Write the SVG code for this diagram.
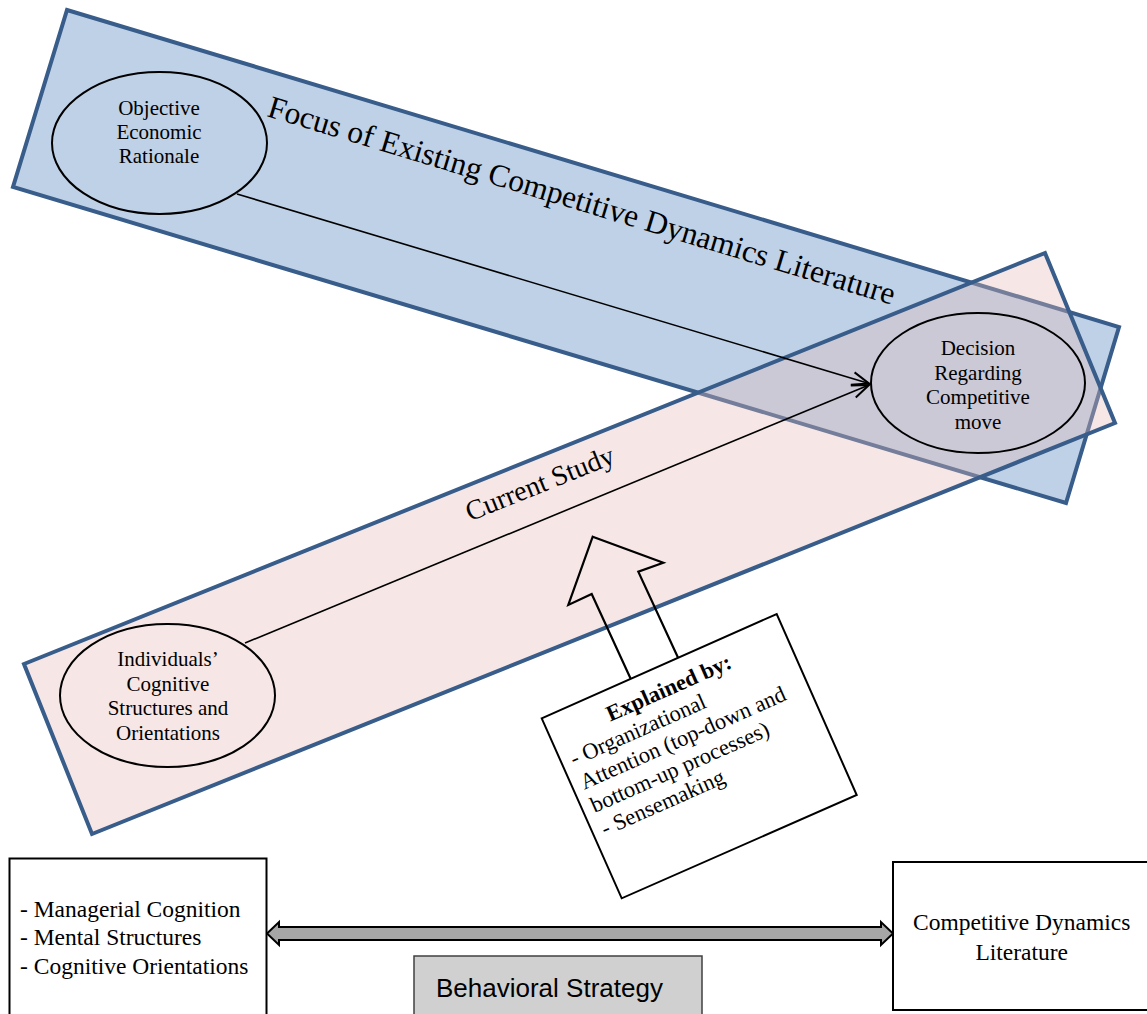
<svg xmlns="http://www.w3.org/2000/svg" width="1147" height="1014" viewBox="0 0 1147 1014">
<defs>
<style>
.serif{font-family:"Liberation Serif","Times New Roman",serif;fill:#000}
.band{stroke:#385D8A;stroke-width:4;stroke-linejoin:miter}
.ell{fill:none;stroke:#000;stroke-width:2}
.ln{fill:none;stroke:#000;stroke-width:1.6}
.box{fill:#fff;stroke:#000;stroke-width:2}
</style>
<marker id="open" viewBox="-20 -10 22 20" refX="0" refY="0" markerWidth="22" markerHeight="20" markerUnits="userSpaceOnUse" orient="auto">
<path d="M-17,-6.5 L0,0 L-17,6.5" fill="none" stroke="#000" stroke-width="2"/>
</marker>
</defs>
<rect width="1147" height="1014" fill="#fff"/>

<g id="band-existing">
<polygon class="band" points="67,10 1119,327 1066,503 13,187" fill="#BFD1E6"/>
<text class="serif" font-size="31.5" transform="translate(266,116) rotate(16.8)">Focus of Existing Competitive Dynamics Literature</text>
</g>

<g id="band-current">
<polygon class="band" points="24,664 1045,253 1115,423 92,834" fill="#E6B9B8" fill-opacity="0.35"/>
<text class="serif" font-size="28" transform="translate(470,521.5) rotate(-21.9)">Current Study</text>
</g>

<g id="node-objective">
<ellipse class="ell" cx="159.5" cy="143" rx="107.5" ry="71"/>
<text class="serif" font-size="21" text-anchor="middle"><tspan x="159" y="115">Objective</tspan><tspan x="159" y="139">Economic</tspan><tspan x="159" y="163">Rationale</tspan></text>
</g>

<g id="node-decision">
<ellipse class="ell" cx="978" cy="383" rx="107" ry="70"/>
<text class="serif" font-size="21" text-anchor="middle"><tspan x="978" y="355">Decision</tspan><tspan x="978" y="379.5">Regarding</tspan><tspan x="978" y="404">Competitive</tspan><tspan x="978" y="428.5">move</tspan></text>
</g>

<g id="node-individuals">
<ellipse class="ell" cx="167.5" cy="695.5" rx="107.5" ry="71.5"/>
<text class="serif" font-size="21" text-anchor="middle"><tspan x="168" y="666">Individuals’</tspan><tspan x="168" y="690.5">Cognitive</tspan><tspan x="168" y="715">Structures and</tspan><tspan x="168" y="739.5">Orientations</tspan></text>
</g>

<g id="connectors">
<line class="ln" x1="237" y1="194" x2="869" y2="383.5" marker-end="url(#open)"/>
<line class="ln" x1="245" y1="643" x2="869" y2="385" marker-end="url(#open)"/>
<polygon points="592.7,536.7 663.3,562.7 638.3,571.7 678.3,658.3 631.7,681 591.7,594 568.3,605" fill="none" stroke="#000" stroke-width="2.2" stroke-linejoin="miter"/>
<polygon points="267,933.5 279,922 279,927 881,927 881,922 893,933.5 881,945 881,940 279,940 279,945" fill="#A6A6A6" stroke="#000" stroke-width="2"/>
</g>

<g id="node-explained">
<polygon class="box" points="541.7,718.3 776.7,614 856.7,795 621.7,898.3"/>
<g transform="translate(541.7,718.3) rotate(-23.9)">
<text class="serif" font-size="22.5" font-weight="bold" x="128.5" y="31" text-anchor="middle">Explained by:</text>
<text class="serif" font-size="22.5"><tspan x="10" y="57">- Organizational</tspan><tspan x="10" y="82.5">Attention (top-down and</tspan><tspan x="10" y="108">bottom-up processes)</tspan><tspan x="10" y="133.5">- Sensemaking</tspan></text>
</g>
</g>

<g id="node-cognition">
<rect class="box" x="9.5" y="858.5" width="257" height="165"/>
<text class="serif" font-size="23.5"><tspan x="20" y="917">- Managerial Cognition</tspan><tspan x="20" y="945">- Mental Structures</tspan><tspan x="20" y="973.5">- Cognitive Orientations</tspan></text>
</g>

<g id="node-literature">
<rect class="box" x="893" y="862" width="257" height="148"/>
<text class="serif" font-size="23.5" text-anchor="middle"><tspan x="1021.7" y="930">Competitive Dynamics</tspan><tspan x="1021.7" y="960">Literature</tspan></text>
</g>

<g id="node-behavioral">
<rect x="414" y="956" width="288" height="70" fill="#D0D0D0" stroke="#404040" stroke-width="1.5"/>
<text x="436" y="997" font-family="'Liberation Sans',Arial,sans-serif" font-size="26" fill="#000">Behavioral Strategy</text>
</g>
</svg>
